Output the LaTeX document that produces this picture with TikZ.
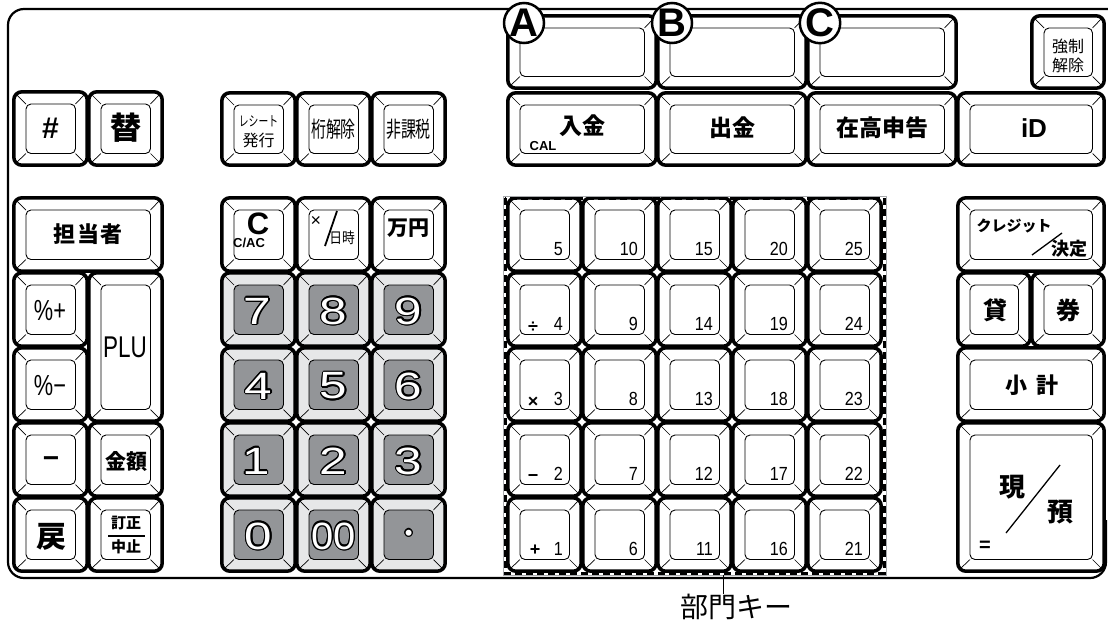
\documentclass[tikz,border=0pt]{standalone}
\usepackage{fontspec}
\setmainfont{Liberation Sans}
\newfontfamily\jp{Noto Sans CJK JP}
\definecolor{keyl}{HTML}{E6E7E8}
\definecolor{keyd}{HTML}{939598}
\definecolor{dgray}{HTML}{A7A9AC}
\newcommand\jb[1]{\fontsize{#1}{#1}\selectfont\jp\bfseries}
\newcommand\jr[1]{\fontsize{#1}{#1}\selectfont\jp}
\newcommand\lb[1]{\fontsize{#1}{#1}\selectfont\bfseries}
\newcommand\lr[1]{\fontsize{#1}{#1}\selectfont}
\tikzset{
  keyrim/.style={line width=3.5pt, rounded corners=8pt},
  keyin/.style={draw=black, line width=0.9pt, rounded corners=5pt},
  keydiag/.style={line width=0.7pt},
  lab/.style={inner sep=0pt},
  numtxt/.style={inner sep=0pt, font=\lr{38}},
  deptnum/.style={inner sep=0pt, font=\lr{19}},
  opnum/.style={inner sep=0pt, font=\lb{18}},
  circlab/.style={circle, draw, line width=2.5pt, fill=white, minimum size=40pt, inner sep=0pt, font=\lb{40}},
}
% face colour, inner colour, x1, y1, x2, y2
\newcommand\kbkey[6]{%
  \fill[#1, rounded corners=8pt] ({#3+0.8},{#4+0.8}) rectangle ({#5-0.8},{#6-0.8});
  \draw[keydiag] ({#3+3},{#4+3}) -- ({#3+13},{#4+13})
                 ({#5-3},{#4+3}) -- ({#5-12.5},{#4+13})
                 ({#3+3},{#6-3}) -- ({#3+13},{#6-12.5})
                 ({#5-3},{#6-3}) -- ({#5-12.5},{#6-12.5});
  \filldraw[keyin, fill=#2] ({#3+13},{#4+13}) rectangle ({#5-12.5},{#6-12.5});
  \draw[keyrim] ({#3+0.8},{#4+0.8}) rectangle ({#5-0.8},{#6-0.8});
}
% name, x, y, text
\newcommand\outl[4]{%
  \foreach \a in {0,30,...,330}{\node[numtxt,text=black] at ([shift={(\a:1.3)}]#2,#3) {#4};}
  \node[numtxt,text=white] (#1) at (#2,#3) {#4};
}
\newcommand\widedig[1]{\scalebox{1.3}[1]{#1}}
\begin{document}
\begin{tikzpicture}[x=1pt,y=-1pt]
\useasboundingbox (0,0) rectangle (1108,622);
\fill[white] (0,0) rectangle (1108,622);
% panel
\draw[line width=2.2pt, rounded corners=16pt] (1112,9) -- (8,9) -- (8,578) -- (1106,578) -- (1106,520);

% top row
\kbkey{white}{white}{507}{15}{657}{89}
\kbkey{white}{white}{657}{15}{807}{89}
\kbkey{white}{white}{807}{15}{957}{89}
\kbkey{white}{white}{1031}{15}{1105}{89}
% row 1
\kbkey{white}{white}{13}{91}{88}{166}
\kbkey{white}{white}{88}{91}{163}{166}
\kbkey{white}{white}{221}{92}{296}{166}
\kbkey{white}{white}{296}{92}{371}{166}
\kbkey{white}{white}{371}{92}{446}{166}
\kbkey{white}{white}{507}{92}{657}{166}
\kbkey{white}{white}{657}{92}{807}{166}
\kbkey{white}{white}{807}{92}{957}{166}
\kbkey{white}{white}{957}{92}{1105}{166}
% row 2
\kbkey{white}{white}{13}{197}{163}{272}
\kbkey{white}{white}{221}{197}{296}{272}
\kbkey{white}{white}{296}{197}{371}{272}
\kbkey{white}{white}{371}{197}{446}{272}
\kbkey{white}{white}{957}{197}{1105}{272}
% left block
\kbkey{white}{white}{13}{272}{88}{347}
\kbkey{white}{white}{88}{272}{163}{422}
\kbkey{white}{white}{13}{347}{88}{422}
\kbkey{white}{white}{13}{422}{88}{497}
\kbkey{white}{white}{88}{422}{163}{497}
\kbkey{white}{white}{13}{497}{88}{572}
\kbkey{white}{white}{88}{497}{163}{572}
% numeric block
\foreach \c in {0,1,2}{\foreach \r in {0,1,2,3}{
  \pgfmathsetmacro\xa{221+75*\c}\pgfmathsetmacro\xb{296+75*\c}
  \pgfmathsetmacro\ya{272+75*\r}\pgfmathsetmacro\yb{347+75*\r}
  \kbkey{keyl}{keyd}{\xa}{\ya}{\xb}{\yb}
}}
% right block
\kbkey{white}{white}{957}{272}{1031}{347}
\kbkey{white}{white}{1031}{272}{1105}{347}
\kbkey{white}{white}{957}{347}{1105}{422}
\kbkey{white}{white}{957}{422}{1105}{572}
% department keys
\foreach \j in {0,...,4}{\foreach \r in {0,...,4}{
  \pgfmathsetmacro\xa{507+75*\j}\pgfmathsetmacro\xb{582+75*\j}
  \pgfmathsetmacro\ya{197+75*\r}\pgfmathsetmacro\yb{272+75*\r}
  \pgfmathtruncatemacro\n{5*\j+5-\r}
  \kbkey{white}{white}{\xa}{\ya}{\xb}{\yb}
  \node[deptnum, anchor=base east] (d\n) at ({\xb-19},{\yb-17}) {\scalebox{0.85}[1]{\n}};
}}
\node[opnum] (opdiv) at (533,327) {÷};
\node[opnum] (opmul) at (533,402) {×};
\node[opnum] (opmin) at (533,478) {−};
\node[opnum] (opadd) at (535,550) {+};

% circled letters
\node[circlab] (cA) at (524,23) {A};
\node[circlab] (cB) at (672,23) {B};
\node[circlab] (cC) at (820,23) {C};

% labels row 1
\node[lab,font=\lb{30}] (kHash) at (50.5,128) {\#};
\node[lab,font=\jb{31}] (kKae) at (125.5,128) {替};
\node[lab,font=\jr{14}] (kRe1) at (258.5,121) {\scalebox{0.7}[1]{レシート}};
\node[lab,font=\jr{16}] (kRe2) at (258.5,140) {発行};
\node[lab,font=\jr{22}] (kKeta) at (333.5,129) {\scalebox{0.68}[1]{桁解除}};
\node[lab,font=\jr{22}] (kHika) at (408.5,129) {\scalebox{0.68}[1]{非課税}};
\node[lab,font=\jb{23}] (kNyu) at (582,126) {入金};
\node[lab,font=\lb{13}] (kCal) at (543,146) {CAL};
\node[lab,font=\jb{23}] (kShu) at (732,128) {出金};
\node[lab,font=\jb{23}] (kZai) at (882,128) {在高申告};
\node[lab,font=\lb{26}] (kID) at (1034,128) {iD};
\node[lab,font=\jr{16}] (kKyo1) at (1068,46) {強制};
\node[lab,font=\jr{16}] (kKyo2) at (1068,65) {解除};
% labels row 2
\node[lab,font=\jb{22}] (kTan) at (88,234) {担\hspace{0.08em}当\hspace{0.08em}者};
\node[lab,font=\lb{31}] (kC) at (258,224) {C};
\node[lab,font=\lb{13}] (kCAC) at (249,243) {C/AC};
\node[lab,font=\lr{18}] (kX) at (316,221) {×};
\draw[line width=1.8pt] (325,246) -- (337,211);
\node[lab,font=\jr{15}] (kNichi) at (342,238) {\scalebox{0.85}[1]{日時}};
\node[lab,font=\jb{21}] (kMan) at (408.5,228) {万円};
\node[lab,font=\jb{15}] (kCre) at (1014,226) {クレジット};
\draw[line width=1.3pt] (1032,255) -- (1062,233);
\node[lab,font=\jb{18}] (kKet) at (1069,249) {決定};
% left block labels
\node[lab,font=\lr{29}] (kPp) at (50,311) {\scalebox{0.75}[1]{\%+}};
\node[lab,font=\lr{30}] (kPLU) at (125,347) {\scalebox{0.75}[1]{PLU}};
\node[lab,font=\lr{29}] (kPm) at (50,386) {\scalebox{0.75}[1]{\%−}};
\node[lab,font=\lb{28}] (kMin) at (51,462) {−};
\node[lab,font=\jb{21}] (kKin) at (126,461) {金額};
\node[lab,font=\jb{30}] (kMod) at (51,537) {戻};
\node[lab,font=\jb{15}] (kTei) at (126,523) {訂正};
\draw[line width=1.4pt] (108,536) -- (145,536);
\node[lab,font=\jb{15}] (kChu) at (126,547) {中止};
% right block labels
\node[lab,font=\jb{24}] (kKa) at (995,310) {貸};
\node[lab,font=\jb{24}] (kKen) at (1068,310) {券};
\node[lab,font=\jb{22}] (kSho) at (1032,385) {小\hspace{0.4em}計};
\node[lab,font=\jb{26}] (kGen) at (1012,487) {現};
\node[lab,font=\jb{26}] (kYo) at (1060,512) {預};
\draw[line width=1.3pt] (1006,533) -- (1060,465);
\node[lab,font=\lb{20}] (kEq) at (985,546) {=};

% numeric digits
\outl{n7}{257.5}{311}{\widedig{7}}
\outl{n8}{333.7}{311}{\widedig{8}}
\outl{n9}{408.7}{311}{\widedig{9}}
\outl{n4}{258.7}{386}{\widedig{4}}
\outl{n5}{333.7}{386}{\widedig{5}}
\outl{n6}{408.7}{386}{\widedig{6}}
\outl{n1}{256}{461}{\widedig{1}}
\outl{n2}{333.7}{461}{\widedig{2}}
\outl{n3}{408.7}{461}{\widedig{3}}
\outl{n0}{258.7}{536}{\widedig{0}}
\outl{n00}{333.7}{536}{\scalebox{1.05}[1]{00}}
\outl{ndot}{408.7}{535}{\lr{22}•}

% department group
\draw[dgray, line width=0.8pt] (503,196) rectangle (886,575);
\draw[line width=3pt, dash pattern=on 7pt off 4pt] (505,198) rectangle (884,573);
\coordinate (gb) at (723,575);
\node[lab, font=\jr{28}, anchor=north] (bumon) at (736.5,594) {部門キー};
\draw[line width=0.9pt] (gb) -- (gb |- bumon.north);
\end{tikzpicture}
\end{document}
